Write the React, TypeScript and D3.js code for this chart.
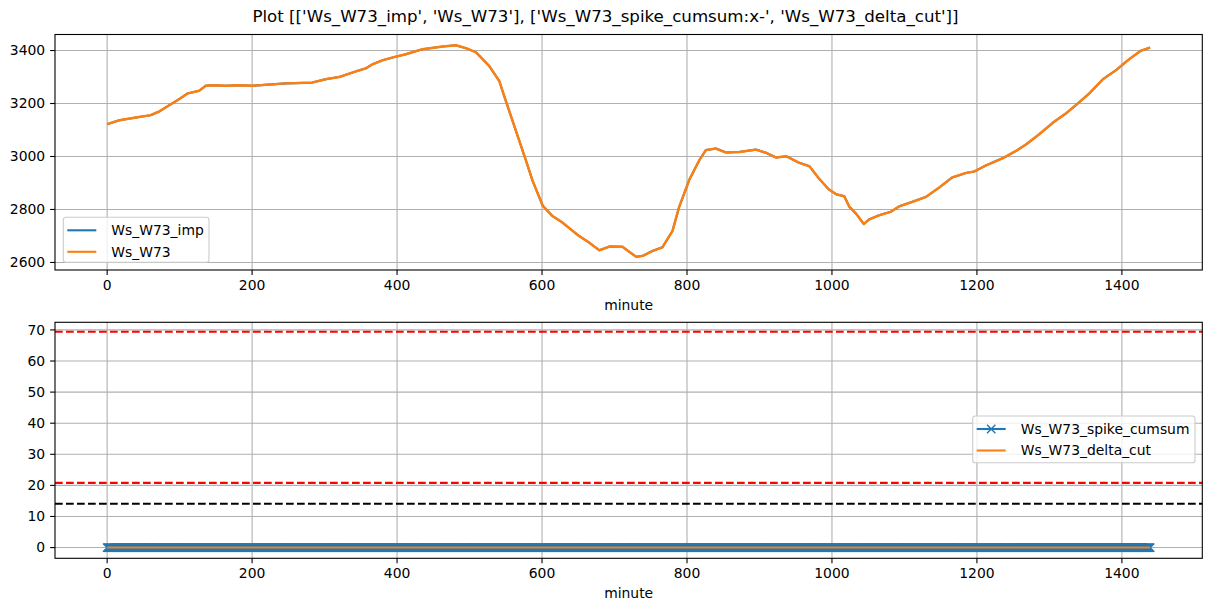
import React, { useRef, useEffect } from "react";
import * as d3 from "d3";

// Ws_W73 readings (minute, value) taken off the top panel
const wsMinutes = [0, 17, 44, 60, 72, 86, 99, 111, 127, 136, 145, 164, 182, 200, 247, 283, 302, 320, 343, 357, 366, 380, 394, 412, 435, 463, 481, 495, 509, 527, 541, 550, 564, 578, 587, 601, 614, 628, 651, 665, 679, 693, 711, 730, 739, 753, 766, 780, 789, 803, 817, 826, 840, 854, 872, 895, 909, 923, 937, 955, 969, 982, 996, 1006, 1017, 1024, 1033, 1044, 1051, 1065, 1081, 1093, 1111, 1130, 1148, 1166, 1185, 1196, 1213, 1236, 1254, 1268, 1286, 1305, 1323, 1337, 1355, 1374, 1392, 1410, 1426, 1439];
const wsValues = [3122, 3137, 3149, 3156, 3170, 3194, 3216, 3238, 3248, 3267, 3269, 3267, 3269, 3267, 3276, 3279, 3292, 3300, 3321, 3333, 3348, 3363, 3374, 3386, 3405, 3415, 3420, 3409, 3393, 3342, 3285, 3210, 3097, 2983, 2908, 2814, 2776, 2751, 2700, 2675, 2646, 2660, 2659, 2621, 2625, 2644, 2657, 2719, 2808, 2911, 2986, 3024, 3030, 3015, 3017, 3026, 3014, 2996, 3001, 2976, 2963, 2917, 2875, 2857, 2850, 2810, 2785, 2745, 2762, 2778, 2791, 2812, 2829, 2848, 2883, 2921, 2938, 2943, 2967, 2994, 3021, 3046, 3084, 3128, 3163, 3195, 3238, 3292, 3326, 3367, 3399, 3411];
// Ws_W73_imp is identical to Ws_W73 (hidden underneath)
const wsImpValues = wsValues;

// bottom panel: every minute of the day, both series sit at 0
const allMinutes = d3.range(0, 1440);
const spikeCumsum = allMinutes.map(() => 0);
const deltaCut = allMinutes.map(() => 0);

// horizontal threshold lines
const redLevels = [69.4, 20.8];
const blackLevels = [14.1];

const xTicks = [0, 200, 400, 600, 800, 1000, 1200, 1400];
const topYTicks = [2600, 2800, 3000, 3200, 3400];
const bottomYTicks = [0, 10, 20, 30, 40, 50, 60, 70];

const xDomain = [-71.95, 1510.95];
const topYDomain = [2571.5, 3460.5];
const bottomYDomain = [-3.45, 72.45];

const W = 1211, H = 611;
const FONT = "DejaVu Sans";
const BLUE = "#1f77b4", ORANGE = "#ff7f0e";

export default function App() {
    const svgRef = useRef<SVGSVGElement>(null);

    useEffect(() => {
        if (!svgRef.current) return;
        const svg = d3.select(svgRef.current);
        svg.selectAll("*").remove();

        svg.append("rect").attr("width", W).attr("height", H).attr("fill", "white");

        svg.append("text")
            .attr("x", W / 2).attr("y", 22)
            .attr("text-anchor", "middle")
            .style("font-family", FONT).style("font-size", "16.67px")
            .text("Plot [['Ws_W73_imp', 'Ws_W73'], ['Ws_W73_spike_cumsum:x-', 'Ws_W73_delta_cut']]");

        const left = 55, right = 1202.3;
        const x = d3.scaleLinear().domain(xDomain).range([left, right]);

        const drawPanel = (top: number, bottom: number, yDomain: number[], yTicks: number[]) => {
            const y = d3.scaleLinear().domain(yDomain).range([bottom, top]);
            const g = svg.append("g");
            // grid
            g.selectAll("line.gx").data(xTicks).join("line")
                .attr("x1", d => x(d)).attr("x2", d => x(d))
                .attr("y1", top).attr("y2", bottom)
                .attr("stroke", "#b0b0b0").attr("stroke-width", 1.1);
            g.selectAll("line.gy").data(yTicks).join("line")
                .attr("x1", left).attr("x2", right)
                .attr("y1", d => y(d)).attr("y2", d => y(d))
                .attr("stroke", "#b0b0b0").attr("stroke-width", 1.1);
            return { g, y };
        };

        const finishPanel = (top: number, bottom: number, y: d3.ScaleLinear<number, number>, yTicks: number[]) => {
            const g = svg.append("g").style("font-family", FONT).style("font-size", "13.9px");
            g.append("rect")
                .attr("x", left).attr("y", top).attr("width", right - left).attr("height", bottom - top)
                .attr("fill", "none").attr("stroke", "black").attr("stroke-width", 1.1);
            g.selectAll("line.tx").data(xTicks).join("line")
                .attr("x1", d => x(d)).attr("x2", d => x(d))
                .attr("y1", bottom).attr("y2", bottom + 4.9)
                .attr("stroke", "black").attr("stroke-width", 1.1);
            g.selectAll("text.tx").data(xTicks).join("text")
                .attr("x", d => x(d)).attr("y", bottom + 20)
                .attr("text-anchor", "middle")
                .text(d => String(d));
            g.selectAll("line.ty").data(yTicks).join("line")
                .attr("x1", left - 4.9).attr("x2", left)
                .attr("y1", d => y(d)).attr("y2", d => y(d))
                .attr("stroke", "black").attr("stroke-width", 1.1);
            g.selectAll("text.ty").data(yTicks).join("text")
                .attr("x", left - 9.8).attr("y", d => y(d)).attr("dy", "0.35em")
                .attr("text-anchor", "end")
                .text(d => String(d));
            g.append("text")
                .attr("x", (left + right) / 2).attr("y", bottom + 40)
                .attr("text-anchor", "middle")
                .text("minute");
        };

        const legend = (lx: number, ly: number, lw: number, lh: number, items: { label: string; color: string; marker?: boolean }[]) => {
            const g = svg.append("g").style("font-family", FONT).style("font-size", "13.9px");
            g.append("rect")
                .attr("x", lx).attr("y", ly).attr("width", lw).attr("height", lh).attr("rx", 2.8)
                .attr("fill", "white").attr("fill-opacity", 0.8)
                .attr("stroke", "#cccccc").attr("stroke-width", 1.1);
            items.forEach((it, i) => {
                const cy = ly + 13 + i * 21.5;
                g.append("line")
                    .attr("x1", lx + 4).attr("x2", lx + 33).attr("y1", cy).attr("y2", cy)
                    .attr("stroke", it.color).attr("stroke-width", 2.1);
                if (it.marker) {
                    const cx = lx + 18.5, r = 4.17;
                    g.append("path")
                        .attr("d", `M${cx - r},${cy - r}L${cx + r},${cy + r}M${cx - r},${cy + r}L${cx + r},${cy - r}`)
                        .attr("stroke", it.color).attr("stroke-width", 1.4);
                }
                g.append("text").attr("x", lx + 48).attr("y", cy).attr("dy", "0.35em").text(it.label);
            });
        };

        // ---- top panel
        const tTop = 34.5, tBottom = 270;
        const top = drawPanel(tTop, tBottom, topYDomain, topYTicks);
        const lineTop = d3.line<number>()
            .x((_, i) => x(wsMinutes[i]))
            .y(d => top.y(d));
        top.g.append("path").attr("d", lineTop(wsImpValues))
            .attr("fill", "none").attr("stroke", BLUE).attr("stroke-width", 2.1).attr("stroke-linejoin", "round");
        top.g.append("path").attr("d", lineTop(wsValues))
            .attr("fill", "none").attr("stroke", ORANGE).attr("stroke-width", 2.4).attr("stroke-linejoin", "round");
        finishPanel(tTop, tBottom, top.y, topYTicks);
        legend(63.3, 217.3, 145.7, 45, [
            { label: "Ws_W73_imp", color: BLUE },
            { label: "Ws_W73", color: ORANGE },
        ]);

        // ---- bottom panel
        const bTop = 322.3, bBottom = 558.3;
        const bot = drawPanel(bTop, bBottom, bottomYDomain, bottomYTicks);
        const y2 = bot.y;
        bot.g.selectAll("line.red").data(redLevels).join("line")
            .attr("x1", left).attr("x2", right).attr("y1", d => y2(d)).attr("y2", d => y2(d))
            .attr("stroke", "red").attr("stroke-width", 2.1).attr("stroke-dasharray", "7.7,3.3");
        bot.g.selectAll("line.blk").data(blackLevels).join("line")
            .attr("x1", left).attr("x2", right).attr("y1", d => y2(d)).attr("y2", d => y2(d))
            .attr("stroke", "black").attr("stroke-width", 2.1).attr("stroke-dasharray", "7.7,3.3");

        const lineSpike = d3.line<number>().x((_, i) => x(allMinutes[i])).y(d => y2(d));
        bot.g.append("path").attr("d", lineSpike(spikeCumsum))
            .attr("fill", "none").attr("stroke", BLUE).attr("stroke-width", 2.1);
        const r = 4.17;
        const markerPath = spikeCumsum.map((v, i) => {
            const cx = x(allMinutes[i]), cy = y2(v);
            return `M${cx - r},${cy - r}L${cx + r},${cy + r}M${cx - r},${cy + r}L${cx + r},${cy - r}`;
        }).join("");
        bot.g.append("path").attr("d", markerPath)
            .attr("fill", "none").attr("stroke", BLUE).attr("stroke-width", 1.4);
        bot.g.append("path").attr("d", lineSpike(deltaCut))
            .attr("fill", "none").attr("stroke", ORANGE).attr("stroke-width", 2.1);
        finishPanel(bTop, bBottom, y2, bottomYTicks);
        legend(972.7, 416, 222.3, 46.7, [
            { label: "Ws_W73_spike_cumsum", color: BLUE, marker: true },
            { label: "Ws_W73_delta_cut", color: ORANGE },
        ]);
    }, []);

    return (
        <svg ref={svgRef} width={W} height={H} style={{ position: "absolute", left: 0, top: 0 }} />
    );
}
